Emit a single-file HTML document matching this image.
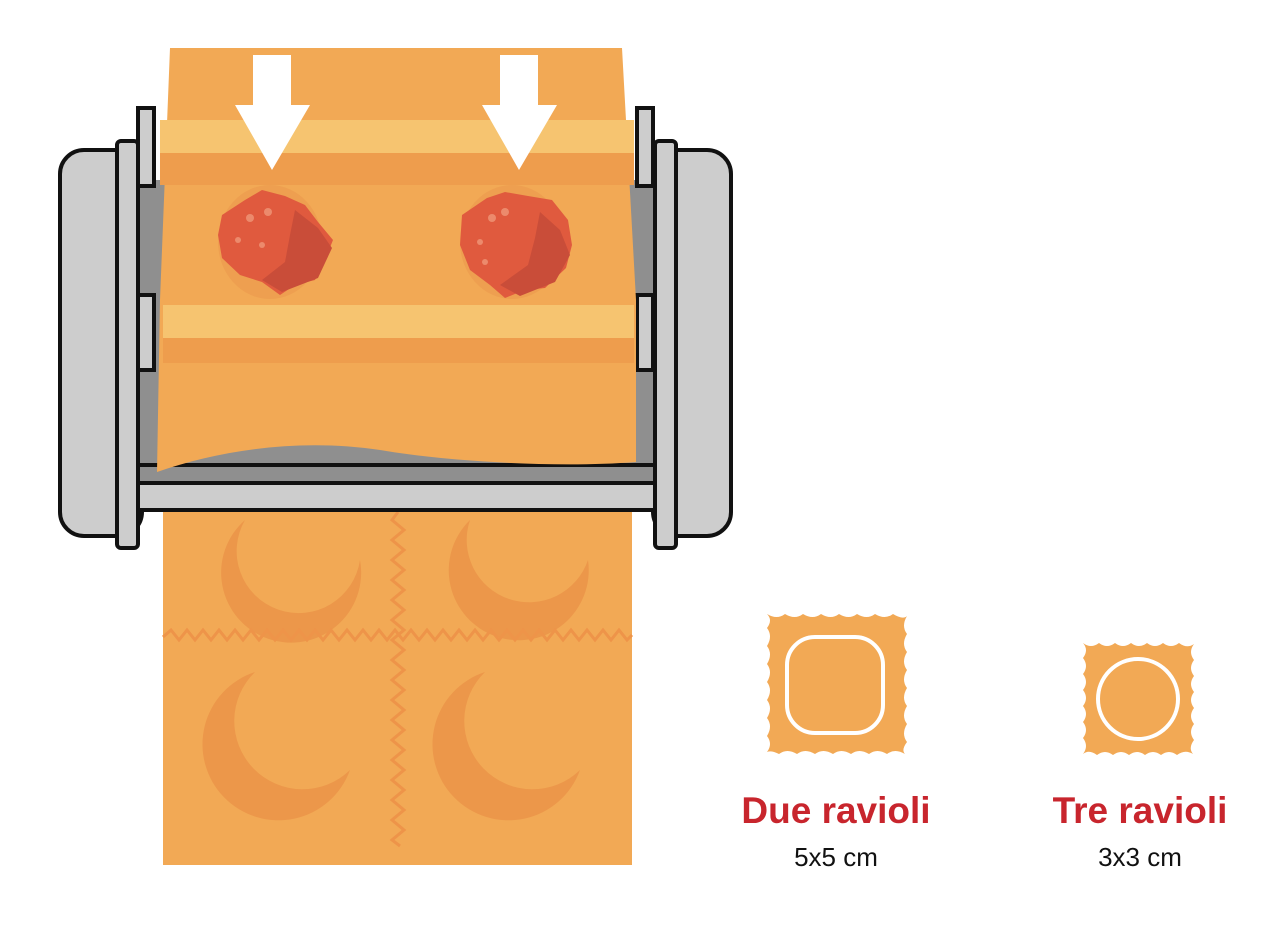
<!DOCTYPE html>
<html><head><style>body{margin:0;background:#fff}svg{display:block}</style></head><body>
<svg width="1286" height="934" viewBox="0 0 1286 934" xmlns="http://www.w3.org/2000/svg">
<!-- lower sheet -->
<rect x="163" y="505" width="469" height="360" fill="#f2a955"/>
<g fill="#ec974a">
<path d="M245 520 A70 70 0 1 0 360 560 A62 62 0 1 1 245 520Z"/>
<path d="M470 520 A70 70 0 1 0 588 560 A62 62 0 1 1 470 520Z"/>
<path d="M255 672 A76 76 0 1 0 350 770 A62 62 0 1 1 255 672Z"/>
<path d="M485 672 A76 76 0 1 0 580 770 A62 62 0 1 1 485 672Z"/>
</g>
<polyline points="163,637 171,630 179,640 187,630 195,640 203,630 211,640 219,630 227,640 235,630 243,640 251,630 259,640 267,630 275,640 283,630 291,640 299,630 307,640 315,630 323,640 331,630 339,640 347,630 355,640 363,630 371,640 379,630 387,640 395,630 403,640 411,630 419,640 427,630 435,640 443,630 451,640 459,630 467,640 475,630 483,640 491,630 499,640 507,630 515,640 523,630 531,640 539,630 547,640 555,630 563,640 571,630 579,640 587,630 595,640 603,630 611,640 619,630 627,640 632,635" fill="none" stroke="#ee9449" stroke-width="3"/>
<polyline points="398,512 392,520 404,530 392,540 404,550 392,560 404,570 392,580 404,590 392,600 404,610 392,620 404,630 392,640 404,650 392,660 404,670 392,680 404,690 392,700 404,710 392,720 404,730 392,740 404,750 392,760 404,770 392,780 404,790 392,800 404,810 392,820 404,830 392,840 400,846" fill="none" stroke="#ee9449" stroke-width="3"/>
<!-- machine -->
<rect x="60" y="150" width="82" height="386" rx="24" fill="#cdcdcd" stroke="#111" stroke-width="4"/>
<rect x="653" y="150" width="78" height="386" rx="24" fill="#cdcdcd" stroke="#111" stroke-width="4"/>
<rect x="138" y="180" width="517" height="290" fill="#8f8f8f"/>
<rect x="138" y="465" width="517" height="18" fill="#8f8f8f" stroke="#111" stroke-width="4"/>
<rect x="138" y="483" width="517" height="27" fill="#cdcdcd" stroke="#111" stroke-width="4"/>
<rect x="117" y="141" width="21" height="407" rx="4" fill="#cdcdcd" stroke="#111" stroke-width="4"/>
<rect x="655" y="141" width="21" height="407" rx="4" fill="#cdcdcd" stroke="#111" stroke-width="4"/>
<rect x="138" y="108" width="16" height="78" fill="#cdcdcd" stroke="#111" stroke-width="4"/>
<rect x="138" y="295" width="16" height="75" fill="#cdcdcd" stroke="#111" stroke-width="4"/>
<rect x="637" y="108" width="16" height="78" fill="#cdcdcd" stroke="#111" stroke-width="4"/>
<rect x="637" y="295" width="16" height="75" fill="#cdcdcd" stroke="#111" stroke-width="4"/>
<!-- top sheet -->
<path d="M170 48 L622 48 L636 300 L636 462 C560 468 450 462 380 450 C300 438 220 450 157 472 L160 300 Z" fill="#f2a955"/>
<rect x="160" y="120" width="474" height="33" fill="#f6c470"/>
<rect x="160" y="153" width="474" height="32" fill="#ee9d4d"/>
<rect x="163" y="305" width="471" height="33" fill="#f6c470"/>
<rect x="163" y="338" width="471" height="25" fill="#ee9d4d"/>
<!-- fillings -->
<g>
<ellipse cx="270" cy="242" rx="52" ry="57" fill="#ee9f50"/>
<path d="M222 215 L245 200 L262 190 L285 196 L305 205 L318 222 L333 240 L325 260 L315 280 L295 285 L280 295 L262 282 L240 275 L222 258 L218 235Z" fill="#e05a3e"/>
<path d="M295 210 L318 228 L332 248 L318 278 L282 292 L262 280 L285 262 L290 235Z" fill="#c94d39"/>
<ellipse cx="512" cy="242" rx="52" ry="57" fill="#ee9f50"/>
<path d="M462 215 L487 198 L505 192 L528 196 L552 200 L568 220 L572 245 L566 268 L545 288 L525 290 L505 298 L490 285 L470 270 L460 245Z" fill="#e05a3e"/>
<path d="M540 212 L560 230 L570 255 L555 282 L520 296 L500 285 L528 265 L535 238Z" fill="#c94d39"/>
<g fill="#ec8a6c"><circle cx="250" cy="218" r="4"/><circle cx="238" cy="240" r="3"/><circle cx="262" cy="245" r="3"/><circle cx="268" cy="212" r="4"/><circle cx="492" cy="218" r="4"/><circle cx="480" cy="242" r="3"/><circle cx="505" cy="212" r="4"/><circle cx="485" cy="262" r="3"/></g>
</g>
<!-- arrows -->
<path d="M253 55 H291 V105 H310 L272 170 L235 105 H253Z" fill="#fff"/>
<path d="M500 55 H538 V105 H557 L519 170 L482 105 H500Z" fill="#fff"/>
<!-- ravioli icons -->
<path d="M767 614 Q777 620 785 614 Q795 620 803 614 Q813 620 821 614 Q831 620 839 614 Q849 620 857 614 Q867 620 875 614 Q885 620 893 614 Q903 620 907 616 Q901 626 907 634 Q901 644 907 652 Q901 662 907 670 Q901 680 907 688 Q901 698 907 706 Q901 716 907 724 Q901 734 907 742 Q901 750 905 754 Q895 748 887 754 Q877 748 869 754 Q859 748 851 754 Q841 748 833 754 Q823 748 815 754 Q805 748 797 754 Q787 748 779 754 Q771 750 767 752 Q773 744 767 736 Q773 726 767 718 Q773 708 767 700 Q773 690 767 682 Q773 672 767 664 Q773 654 767 646 Q773 636 767 628 Q773 620 767 614Z" fill="#f2a955"/>
<rect x="787" y="637" width="96" height="96" rx="28" fill="none" stroke="#fff" stroke-width="4"/>
<path d="M1083 643 Q1091 649 1099 643 Q1107 649 1115 643 Q1123 649 1131 643 Q1139 649 1147 643 Q1155 649 1163 643 Q1171 649 1179 643 Q1187 649 1194 644 Q1188 652 1194 660 Q1188 668 1194 676 Q1188 684 1194 692 Q1188 700 1194 708 Q1188 716 1194 724 Q1188 732 1194 740 Q1188 748 1193 754 Q1185 749 1177 755 Q1169 749 1161 755 Q1153 749 1145 755 Q1137 749 1129 755 Q1121 749 1113 755 Q1105 749 1097 755 Q1089 749 1083 754 Q1089 746 1083 738 Q1089 730 1083 722 Q1089 714 1083 706 Q1089 698 1083 690 Q1089 682 1083 674 Q1089 666 1083 658 Q1089 650 1083 643Z" fill="#f2a955"/>
<circle cx="1138" cy="699" r="40" fill="none" stroke="#fff" stroke-width="4"/>
<g font-family="Liberation Sans, sans-serif" text-anchor="middle">
<text x="836" y="823" font-size="37" font-weight="bold" fill="#c8252d">Due ravioli</text>
<text x="836" y="866" font-size="26" fill="#111">5x5 cm</text>
<text x="1140" y="823" font-size="37" font-weight="bold" fill="#c8252d">Tre ravioli</text>
<text x="1140" y="866" font-size="26" fill="#111">3x3 cm</text>
</g>
</svg>
</body></html>
